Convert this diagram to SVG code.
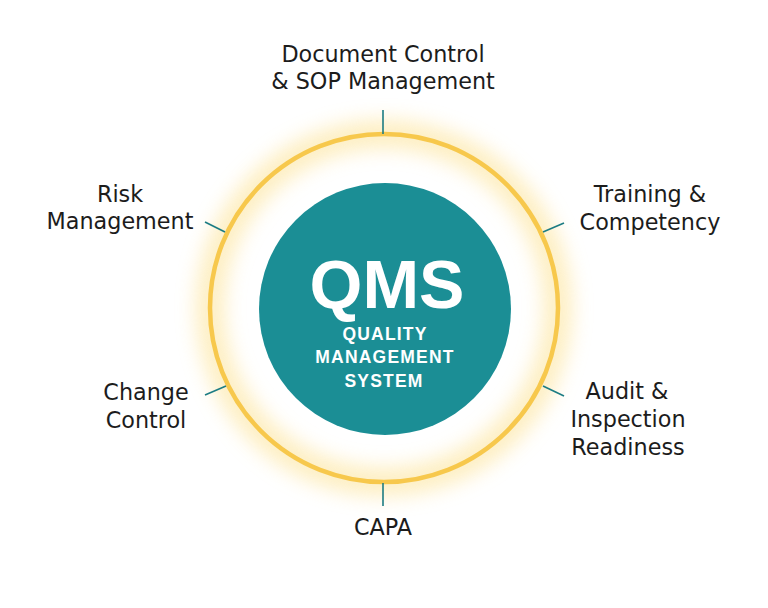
<svg xmlns="http://www.w3.org/2000/svg" width="768" height="608" viewBox="0 0 768 608">
<defs>
<style>
.lbl{font-family:"DejaVu Sans","Noto Sans",sans-serif;font-size:22.3px;fill:#1c1c1c;text-anchor:middle}
.tick{stroke:#1c7c83;stroke-width:1.6;fill:none}
.sub{font-family:"Liberation Sans",sans-serif;font-weight:bold;font-size:17.5px;fill:#ffffff;text-anchor:middle;letter-spacing:1.2px}
</style>
<filter id="glow" x="-30%" y="-30%" width="160%" height="160%">
<feGaussianBlur stdDeviation="10"/>
</filter>
</defs>
<rect width="768" height="608" fill="#ffffff"/>
<g id="hub">
<circle cx="384" cy="308" r="174" fill="none" stroke="#fde7a6" stroke-width="28" opacity="0.7" filter="url(#glow)"/>
<circle cx="384" cy="308" r="174" fill="none" stroke="#f7c84c" stroke-width="4.5"/>
<circle cx="385" cy="309" r="126" fill="#1b8e95"/>
<text x="387" y="308" font-family="Liberation Sans,sans-serif" font-weight="bold" font-size="68" fill="#ffffff" text-anchor="middle">QMS</text>
<text class="sub" x="385" y="340">QUALITY</text>
<text class="sub" x="385" y="363">MANAGEMENT</text>
<text class="sub" x="384" y="387">SYSTEM</text>
</g>
<g id="connectors">
<line class="tick" x1="383" y1="110" x2="383" y2="134"/>
<line class="tick" x1="383" y1="483" x2="383" y2="506"/>
<line class="tick" x1="205" y1="222" x2="225" y2="232"/>
<line class="tick" x1="543" y1="232" x2="564" y2="223"/>
<line class="tick" x1="205" y1="395" x2="226" y2="386"/>
<line class="tick" x1="543" y1="386" x2="564" y2="396"/>
</g>
<g id="doc-control">
<text class="lbl" x="383" y="62">Document Control</text>
<text class="lbl" x="383" y="89">&amp; SOP Management</text>
</g>
<g id="risk">
<text class="lbl" x="120" y="202">Risk</text>
<text class="lbl" x="120" y="229">Management</text>
</g>
<g id="training">
<text class="lbl" x="650" y="202">Training &amp;</text>
<text class="lbl" x="650" y="230">Competency</text>
</g>
<g id="change">
<text class="lbl" x="146" y="400">Change</text>
<text class="lbl" x="146" y="428">Control</text>
</g>
<g id="audit">
<text class="lbl" x="627" y="399">Audit &amp;</text>
<text class="lbl" x="628" y="427">Inspection</text>
<text class="lbl" x="628" y="455">Readiness</text>
</g>
<g id="capa">
<text class="lbl" x="383" y="535">CAPA</text>
</g>
</svg>
